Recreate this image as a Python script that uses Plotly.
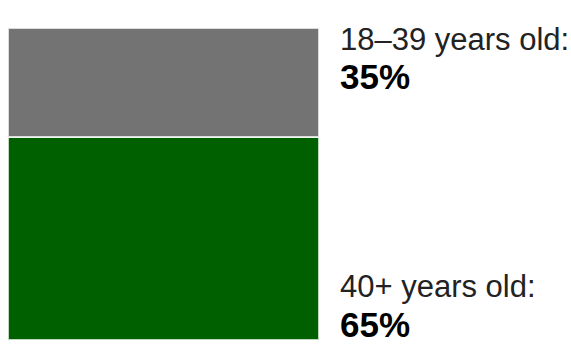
import plotly.graph_objects as go

groups = ["40+ years old", "18–39 years old"]
shares = [65, 35]
colors = ["#006000", "#737373"]
W, H = 571, 346

fig = go.Figure()
for g, v, c in zip(groups, shares, colors):
    fig.add_trace(go.Bar(
        x=["all"], y=[v], name=g, width=1,
        marker=dict(color=c, line=dict(color="rgba(255,255,255,0.75)", width=2)),
        hoverinfo="skip",
    ))

x0, x1 = 8, 319
top_px, bot_px = 28, 340
fig.update_layout(
    width=W, height=H,
    barmode="stack",
    showlegend=False,
    margin=dict(l=0, r=0, t=top_px, b=H - bot_px),
    paper_bgcolor="white", plot_bgcolor="white",
    xaxis=dict(domain=[x0 / W, x1 / W], range=[-0.5, 0.5], visible=False, fixedrange=True),
    yaxis=dict(range=[0, 100], visible=False, fixedrange=True),
    font=dict(family="Liberation Sans, Arial, sans-serif", color="#222"),
)


def label(text, baseline_px, size, color):
    box_bottom = baseline_px + 0.212 * size + 1
    fig.add_annotation(
        xref="paper", yref="paper", x=338 / W,
        y=(bot_px - box_bottom) / (bot_px - top_px),
        xanchor="left", yanchor="bottom", text=text, showarrow=False,
        align="left", font=dict(size=size, color=color),
    )


# 18–39 label (top), 40+ label (bottom)
label(f"{groups[1]}:", 51, 31, "#222")
label(f"<b>{shares[1]}%</b>", 90, 35, "#000")
label(f"{groups[0]}:", 298, 31, "#222")
label(f"<b>{shares[0]}%</b>", 338, 35, "#000")

fig.write_html("out.html")
